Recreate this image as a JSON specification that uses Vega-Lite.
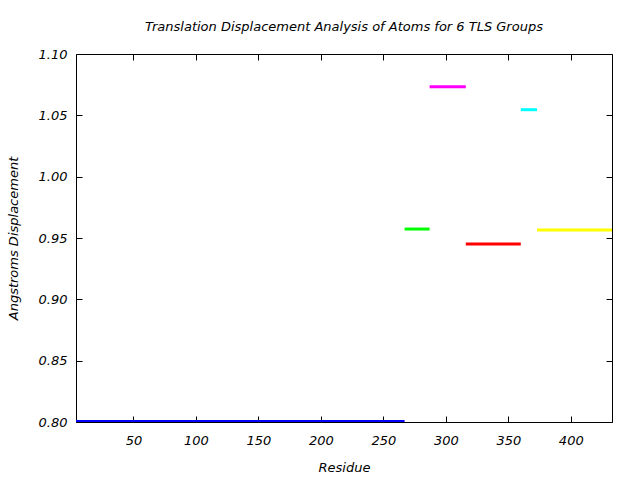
{
  "$schema": "https://vega.github.io/schema/vega-lite/v6.json",
  "width": 536,
  "height": 368,
  "autosize": {"type": "none"},
  "padding": {"left": 76, "top": 54, "right": 28, "bottom": 58},
  "background": "white",
  "title": {
    "text": "Translation Displacement Analysis of Atoms for 6 TLS Groups",
    "font": "DejaVu Sans",
    "fontSize": 13,
    "fontStyle": "italic",
    "fontWeight": "normal",
    "color": "black",
    "offset": 14,
    "anchor": "middle"
  },
  "config": {
    "view": {"stroke": "black", "strokeWidth": 1},
    "axis": {
      "grid": false,
      "domain": false,
      "tickColor": "black",
      "tickSize": -6,
      "labelFont": "DejaVu Sans",
      "labelFontStyle": "italic",
      "labelFontSize": 13,
      "labelColor": "black",
      "titleFont": "DejaVu Sans",
      "titleFontStyle": "italic",
      "titleFontWeight": "normal",
      "titleFontSize": 13,
      "titleColor": "black"
    }
  },
  "data": {
    "values": [
      {"group": "1", "start": 4, "end": 267, "value": 0.8005},
      {"group": "2", "start": 267, "end": 287, "value": 0.9573},
      {"group": "3", "start": 287, "end": 316, "value": 1.0733},
      {"group": "4", "start": 316, "end": 360, "value": 0.9451},
      {"group": "5", "start": 360, "end": 373, "value": 1.0546},
      {"group": "6", "start": 373, "end": 433, "value": 0.9565}
    ]
  },
  "layer": [
    {
      "mark": {"type": "rule", "strokeWidth": 3, "clip": true},
      "encoding": {
        "x": {
          "field": "start",
          "type": "quantitative",
          "scale": {"domain": [4, 433], "nice": false, "zero": false},
          "axis": {"title": "Residue", "values": [50, 100, 150, 200, 250, 300, 350, 400], "labelPadding": 18, "titlePadding": 14}
        },
        "x2": {"field": "end"},
        "y": {
          "field": "value",
          "type": "quantitative",
          "scale": {"domain": [0.8, 1.1], "nice": false, "zero": false},
          "axis": {"title": "Angstroms Displacement", "values": [0.8, 0.85, 0.9, 0.95, 1.0, 1.05, 1.1], "format": ".2f", "labelPadding": 15, "titlePadding": 18}
        },
        "color": {
          "field": "group",
          "type": "nominal",
          "scale": {"domain": ["1", "2", "3", "4", "5", "6"], "range": ["#0000ff", "#00ff00", "#ff00ff", "#ff0000", "#00ffff", "#ffff00"]},
          "legend": null
        }
      }
    },
    {
      "mark": {"type": "rule", "opacity": 0},
      "encoding": {
        "x": {"field": "start", "type": "quantitative", "axis": {"orient": "top", "title": null, "labels": false, "values": [50, 100, 150, 200, 250, 300, 350, 400]}},
        "y": {"field": "value", "type": "quantitative", "axis": {"orient": "right", "title": null, "labels": false, "values": [0.8, 0.85, 0.9, 0.95, 1.0, 1.05, 1.1]}}
      }
    }
  ],
  "resolve": {"axis": {"x": "independent", "y": "independent"}}
}
